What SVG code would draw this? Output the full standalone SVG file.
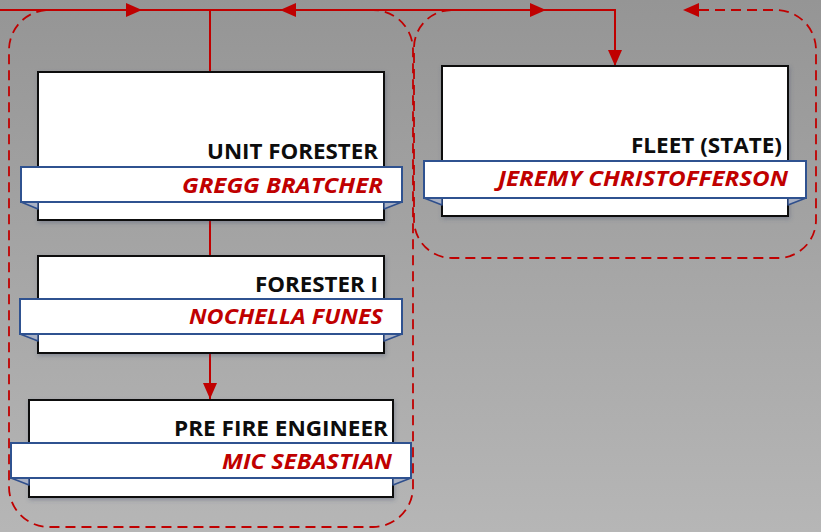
<svg xmlns="http://www.w3.org/2000/svg" width="821" height="532" viewBox="0 0 821 532">
<defs>
<linearGradient id="bg" x1="0" y1="0" x2="0" y2="1">
<stop offset="0" stop-color="#959595"/>
<stop offset="1" stop-color="#b6b6b6"/>
</linearGradient>
<marker id="ah" viewBox="0 0 16 14" refX="16" refY="7" markerWidth="16" markerHeight="14" markerUnits="userSpaceOnUse" orient="auto">
<path d="M0,0 L16,7 L0,14 Z" fill="#c00000"/>
</marker>
<filter id="sh" x="-10%" y="-10%" width="120%" height="130%">
<feDropShadow dx="1" dy="2" stdDeviation="2" flood-color="#3a4a6a" flood-opacity="0.35"/>
</filter>
<style>
.box{fill:#ffffff;stroke:#111111;stroke-width:2;filter:url(#sh)}
.ban{fill:#ffffff;stroke:#2f5290;stroke-width:2}
.fold{fill:#a9b1c4;stroke:#2f4f8c;stroke-width:1.5;stroke-linejoin:round}
.title{font-family:"Open Sans","Liberation Sans",sans-serif;font-weight:bold;font-size:22px;fill:#0d0d0d}
.name{font-family:"Open Sans","Liberation Sans",sans-serif;font-weight:bold;font-style:italic;font-size:21px;fill:#c00000}
.solid{fill:none;stroke:#c00000;stroke-width:2}
.dash{fill:none;stroke:#c00000;stroke-width:1.8;stroke-dasharray:10,6}
</style>
</defs>
<rect width="821" height="532" fill="url(#bg)"/>

<g id="groups">
<rect x="9" y="10" width="404" height="517" rx="40" ry="40" class="dash"/>
</g>

<g id="connectors">
<path d="M0,10 H142" class="solid" marker-end="url(#ah)"/>
<path d="M142,10 H615" class="solid"/>
<path d="M420,10 H280" class="solid" marker-end="url(#ah)"/>
<path d="M420,10 H546" class="solid" marker-end="url(#ah)"/>
<path d="M546,10 H615 V66" class="solid" marker-end="url(#ah)"/>
<path d="M210,10 V72" class="solid"/>
<path d="M210,220 V256" class="solid"/>
<path d="M210,353 V399" class="solid" marker-end="url(#ah)"/>
<path d="M699,10 H776 A40,40 0 0 1 816,50 V220 A38,38 0 0 1 778,258 H452 A38,38 0 0 1 414,220 V48 A38,38 0 0 1 452,10 H615" class="dash"/>
<path d="M710,10 H683" fill="none" stroke="none" marker-end="url(#ah)"/>
</g>

<g id="unit-forester">
<rect x="38" y="72" width="346" height="148" class="box"/>
<polygon points="21,202 38,202 38,209" class="fold"/>
<polygon points="402,202 384,202 384,209" class="fold"/>
<rect x="21" y="167" width="381" height="35" class="ban"/>
<text x="378" y="159" text-anchor="end" class="title" textLength="171" lengthAdjust="spacingAndGlyphs">UNIT FORESTER</text>
<text x="383" y="193" text-anchor="end" class="name" textLength="201" lengthAdjust="spacingAndGlyphs">GREGG BRATCHER</text>
</g>

<g id="forester-i">
<rect x="38" y="256" width="346" height="97" class="box"/>
<polygon points="20,334 38,334 38,341" class="fold"/>
<polygon points="402,334 384,334 384,341" class="fold"/>
<rect x="20" y="299" width="382" height="35" class="ban"/>
<text x="378" y="292" text-anchor="end" class="title" textLength="123" lengthAdjust="spacingAndGlyphs">FORESTER I</text>
<text x="383" y="324" text-anchor="end" class="name" textLength="194" lengthAdjust="spacingAndGlyphs">NOCHELLA FUNES</text>
</g>

<g id="pre-fire-engineer">
<rect x="29" y="400" width="364" height="97" class="box"/>
<polygon points="11,478 29,478 29,485" class="fold"/>
<polygon points="411,478 393,478 393,485" class="fold"/>
<rect x="11" y="443" width="400" height="35" class="ban"/>
<text x="388" y="436" text-anchor="end" class="title" textLength="214" lengthAdjust="spacingAndGlyphs">PRE FIRE ENGINEER</text>
<text x="392" y="469" text-anchor="end" class="name" textLength="170" lengthAdjust="spacingAndGlyphs">MIC SEBASTIAN</text>
</g>

<g id="fleet-state">
<rect x="442" y="66" width="346" height="150" class="box"/>
<polygon points="424,198 442,198 442,205" class="fold"/>
<polygon points="806,198 788,198 788,205" class="fold"/>
<rect x="424" y="161" width="382" height="37" class="ban"/>
<text x="782" y="153" text-anchor="end" class="title" textLength="151" lengthAdjust="spacingAndGlyphs">FLEET (STATE)</text>
<text x="788" y="186" text-anchor="end" class="name" textLength="290" lengthAdjust="spacingAndGlyphs">JEREMY CHRISTOFFERSON</text>
</g>
</svg>
